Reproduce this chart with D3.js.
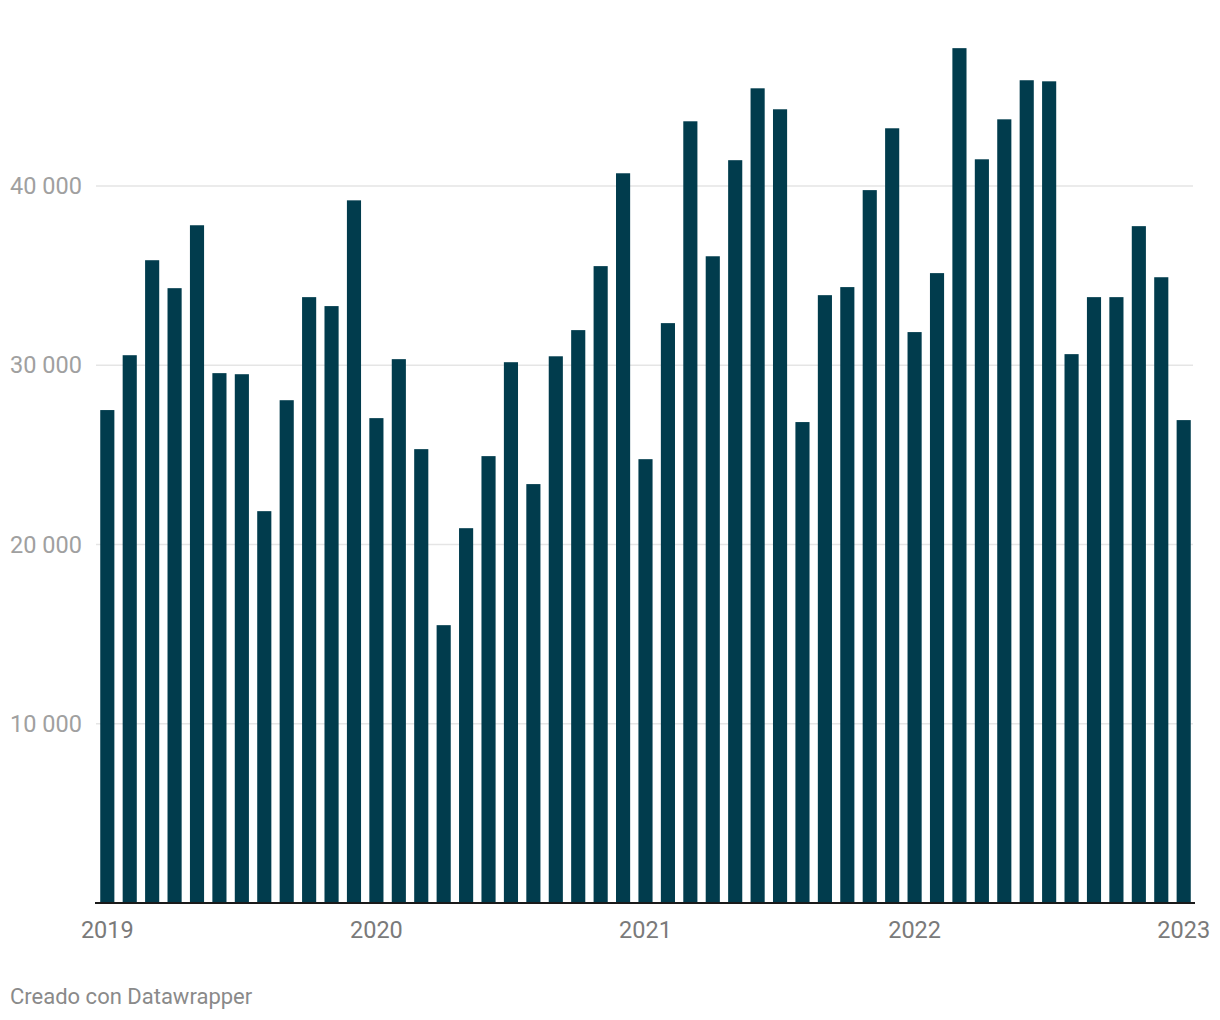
<!DOCTYPE html>
<html><head><meta charset="utf-8">
<script src="https://cdn.jsdelivr.net/npm/d3@7"></script>
<style>body{margin:0;background:#fff;font-family:Roboto,sans-serif}</style>
</head><body><svg id="c" width="1220" height="1020"></svg>
<script>
const months = d3.range(49).map(i => new Date(2019, i, 1));
const values = [27500,30560,35860,34300,37810,29560,29500,21860,28050,33800,33300,39200,
27050,30340,25320,15500,20910,24930,30170,23370,30500,31960,35530,40710,
24760,32350,43610,36080,41440,45450,44280,26830,33910,34360,39770,43220,
31850,35140,47690,41490,43720,45900,45840,30620,33800,33800,37760,34910,
26940];
const yTicks = [10000,20000,30000,40000];
const xTickLabels = ["2019","2020","2021","2022","2023"];
const xTickIndex = [0,12,24,36,48];

const svg = d3.select("#c");
const x = d3.scaleBand().domain(d3.range(values.length)).range([98,1193]).paddingInner(0.37).paddingOuter(0.1);
const y = d3.scaleLinear().domain([0,40000]).range([903,186]);

svg.append("g").selectAll("line").data(yTicks).join("line")
  .attr("x1",96).attr("x2",1193).attr("y1",d=>y(d)).attr("y2",d=>y(d))
  .attr("stroke","#e5e5e5").attr("stroke-width",1.5);
svg.append("g").selectAll("text").data(yTicks).join("text")
  .attr("x",10).attr("y",d=>y(d)).attr("dy","0.35em")
  .attr("fill","#a0a0a0").attr("font-size",23.5)
  .text(d=>d3.format(",")(d).replace(","," "));

svg.append("g").selectAll("rect").data(values).join("rect")
  .attr("x",(d,i)=>x(i)).attr("width",x.bandwidth())
  .attr("y",d=>y(d)).attr("height",d=>y(0)-y(d)).attr("fill","#013c4d");

svg.append("line").attr("x1",95).attr("x2",1195).attr("y1",903).attr("y2",903)
  .attr("stroke","#1a1a1a").attr("stroke-width",2);

svg.append("g").selectAll("text").data(xTickIndex).join("text")
  .attr("x",d=>x(d)+x.bandwidth()/2).attr("y",938)
  .attr("text-anchor","middle").attr("fill","#7a7a7a").attr("font-size",23.5)
  .text((d,i)=>xTickLabels[i]);

svg.append("text").attr("x",10).attr("y",1004).attr("fill","#8a8a8a").attr("font-size",22)
  .text("Creado con Datawrapper");
</script></body></html>
